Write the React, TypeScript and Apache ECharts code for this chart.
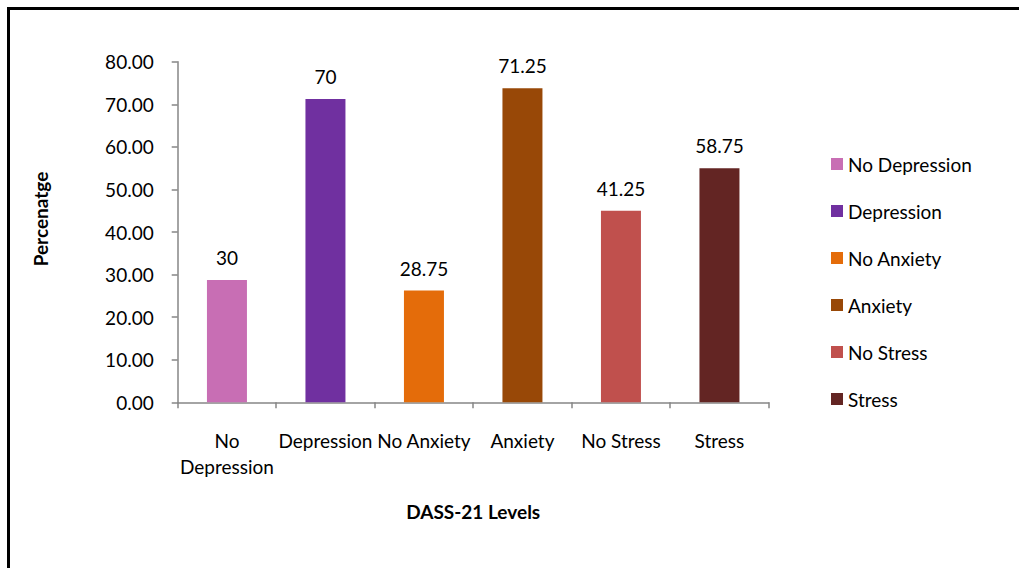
import React, { useEffect, useRef } from "react";
import * as echarts from "echarts";

const categories = ["No\nDepression", "Depression", "No Anxiety", "Anxiety", "No Stress", "Stress"];
const legendNames = ["No Depression", "Depression", "No Anxiety", "Anxiety", "No Stress", "Stress"];
const barValues = [28.75, 71.25, 26.25, 73.75, 45, 55];
const barLabels = ["30", "70", "28.75", "71.25", "41.25", "58.75"];
const colors = ["#C86EB4", "#7030A0", "#E46C0A", "#984807", "#C0504D", "#632523"];

const FONT = "Lato";
const FS = 19;

export default function App() {
  const ref = useRef<HTMLDivElement>(null);
  useEffect(() => {
    if (!ref.current) return;
    const chart = echarts.init(ref.current, undefined, { renderer: "svg" });
    const series = legendNames.map((name, i) => ({
      name,
      type: "bar",
      stack: "all",
      barWidth: 40,
      itemStyle: { color: colors[i] },
      data: barValues.map((v, j) => (j === i ? v : "-")),
      label: {
        show: true,
        position: "top",
        distance: 13,
        color: "#000",
        fontFamily: FONT,
        fontSize: FS,
        formatter: () => barLabels[i],
      },
    }));
    chart.setOption({
      animation: false,
      backgroundColor: "#fff",
      textStyle: { fontFamily: FONT },
      grid: { left: 177.7, right: 250.3, top: 61.7, bottom: 165.7 },
      legend: {
        orient: "vertical",
        left: 826,
        top: 149.5,
        itemWidth: 12,
        itemHeight: 12,
        itemGap: 28,
        icon: "rect",
        data: legendNames,
        textStyle: { fontFamily: FONT, fontSize: FS, color: "#000", lineHeight: 19 },
      },
      xAxis: {
        type: "category",
        data: categories,
        name: "DASS-21 Levels",
        nameLocation: "middle",
        nameGap: 100,
        nameTextStyle: { fontFamily: FONT, fontSize: 19, fontWeight: "bold", color: "#000" },
        axisLine: { lineStyle: { color: "#868686", width: 1.5 } },
        axisTick: { show: true, length: 6, lineStyle: { color: "#868686", width: 1.5 } },
        axisLabel: { interval: 0, margin: 25, lineHeight: 26, fontSize: FS, color: "#000", fontFamily: FONT },
      },
      yAxis: {
        type: "value",
        min: 0,
        max: 80,
        interval: 10,
        splitLine: { show: false },
        axisLine: { show: true, lineStyle: { color: "#868686", width: 1.5 } },
        axisTick: { show: true, length: 6, lineStyle: { color: "#868686", width: 1.5 } },
        axisLabel: {
          margin: 24,
          fontSize: FS,
          color: "#000",
          fontFamily: FONT,
          formatter: (v: number) => v.toFixed(2),
        },
      },
      graphic: [
        {
          type: "rect",
          shape: { x: 8.5, y: 8.5, width: 1100, height: 700 },
          style: { fill: "none", stroke: "#000", lineWidth: 3 },
          silent: true,
        },
        {
          type: "text",
          x: 40,
          y: 219,
          rotation: Math.PI / 2,
          style: {
            text: "Percenatge",
            fontFamily: FONT,
            fontSize: 19,
            fontWeight: "bold",
            fill: "#000",
            align: "center",
            verticalAlign: "middle",
          },
        },
      ],
      series,
    });
    return () => chart.dispose();
  }, []);
  return <div ref={ref} style={{ position: "absolute", left: 0, top: 0, width: 1019, height: 568 }} />;
}
